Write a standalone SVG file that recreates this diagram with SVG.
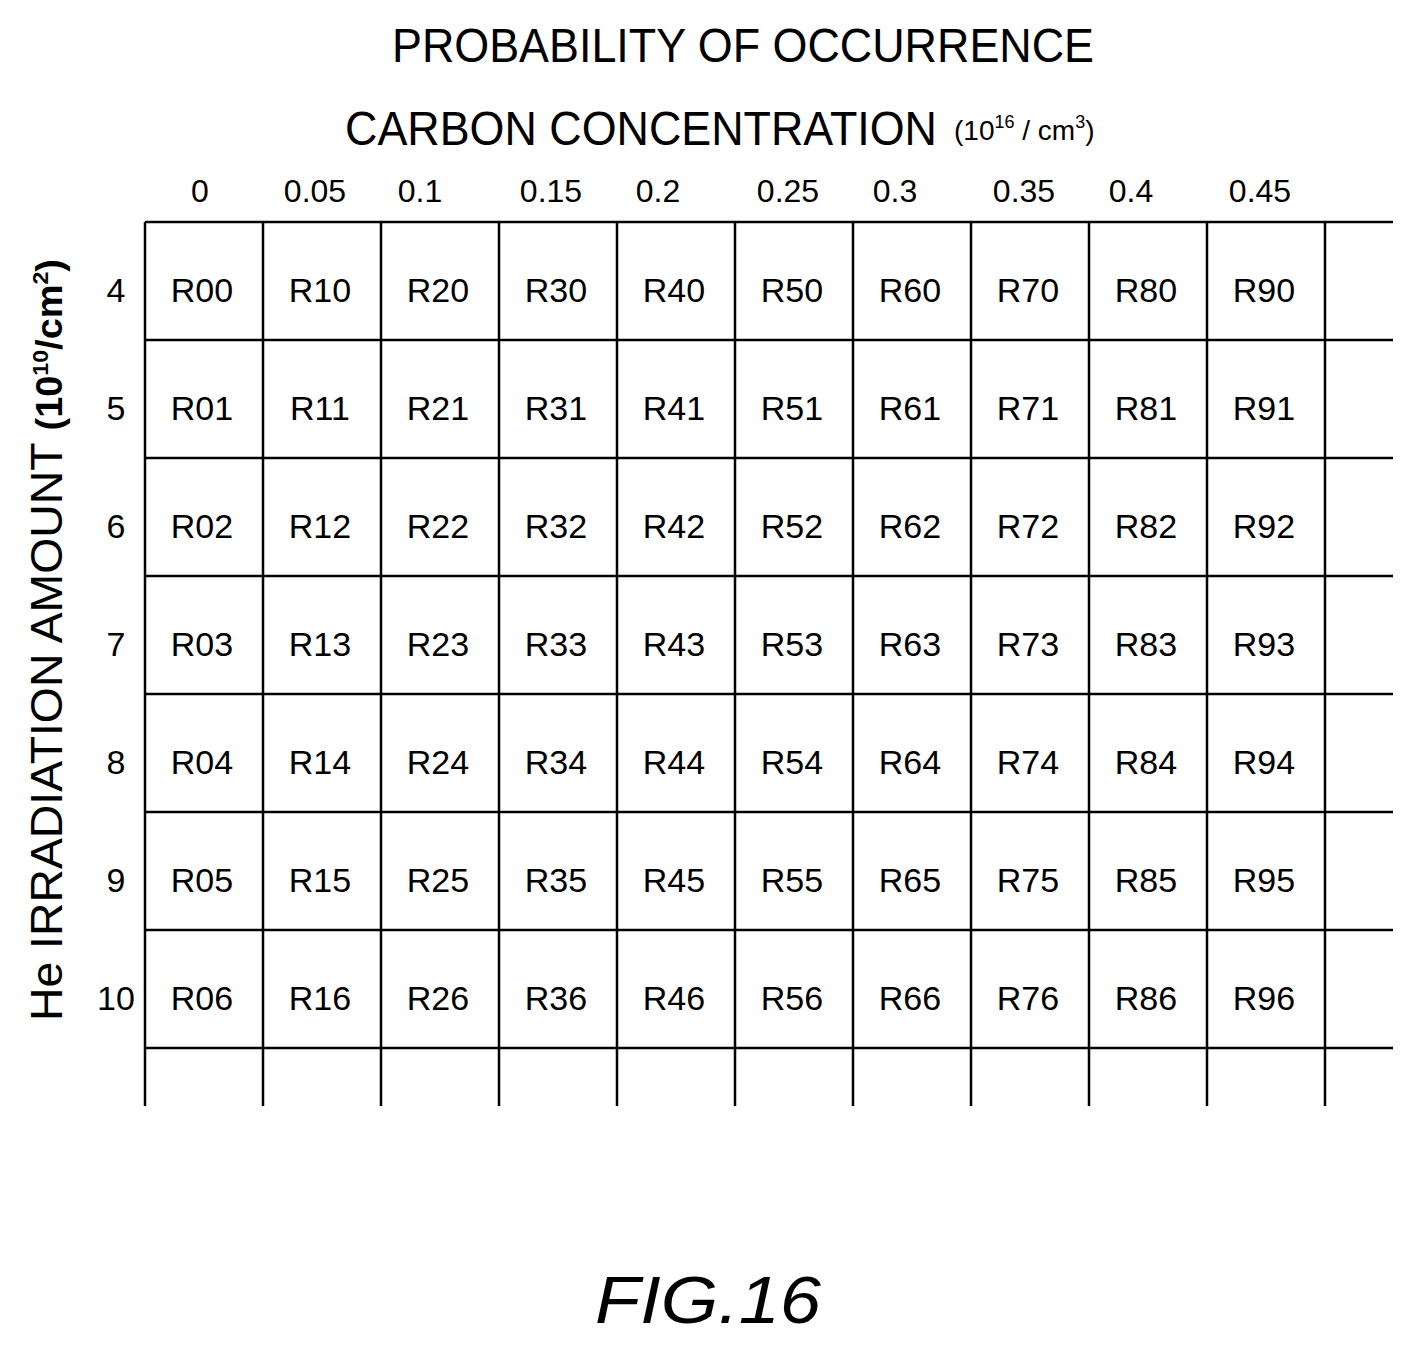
<svg xmlns="http://www.w3.org/2000/svg" width="1414" height="1348" viewBox="0 0 1414 1348">
<style>
text{font-family:"Liberation Sans",Arial,sans-serif;fill:#000}
.c{font-size:34px;text-anchor:middle}
.h{font-size:32px;text-anchor:middle}
line{stroke:#000;stroke-width:2.5}
</style>
<rect width="1414" height="1348" fill="#fff"/>
<text x="743" y="62" font-size="48" text-anchor="middle" textLength="702" lengthAdjust="spacingAndGlyphs">PROBABILITY OF OCCURRENCE</text>
<text x="345" y="145" font-size="48" textLength="592" lengthAdjust="spacingAndGlyphs">CARBON CONCENTRATION</text>
<text x="954" y="140" font-size="28">(10<tspan font-size="18" dy="-12">16</tspan><tspan dy="12"> / cm</tspan><tspan font-size="18" dy="-12">3</tspan><tspan dy="12">)</tspan></text>
<g id="colheads" class="h">
<text x="200" y="202" class="h">0</text><text x="315" y="202" class="h">0.05</text><text x="420" y="202" class="h">0.1</text><text x="551" y="202" class="h">0.15</text><text x="658" y="202" class="h">0.2</text><text x="788" y="202" class="h">0.25</text><text x="895" y="202" class="h">0.3</text><text x="1024" y="202" class="h">0.35</text><text x="1131" y="202" class="h">0.4</text><text x="1260" y="202" class="h">0.45</text>
</g>
<text transform="translate(62,640) rotate(-90)" font-size="44" text-anchor="middle" textLength="762" lengthAdjust="spacingAndGlyphs">He IRRADIATION AMOUNT <tspan font-weight="bold" font-size="36">(10<tspan font-size="22" dy="-14">10</tspan><tspan dy="14">/cm</tspan><tspan font-size="22" dy="-14">2</tspan><tspan dy="14">)</tspan></tspan></text>
<g id="rowheads">
<text x="116" y="302" class="c">4</text><text x="116" y="420" class="c">5</text><text x="116" y="538" class="c">6</text><text x="116" y="656" class="c">7</text><text x="116" y="774" class="c">8</text><text x="116" y="892" class="c">9</text><text x="116" y="1010" class="c">10</text>
</g>
<g id="grid">
<line x1="145" y1="222" x2="1393" y2="222"/><line x1="145" y1="340" x2="1393" y2="340"/><line x1="145" y1="458" x2="1393" y2="458"/><line x1="145" y1="576" x2="1393" y2="576"/><line x1="145" y1="694" x2="1393" y2="694"/><line x1="145" y1="812" x2="1393" y2="812"/><line x1="145" y1="930" x2="1393" y2="930"/><line x1="145" y1="1048" x2="1393" y2="1048"/>
<line x1="145" y1="222" x2="145" y2="1106"/><line x1="263" y1="222" x2="263" y2="1106"/><line x1="381" y1="222" x2="381" y2="1106"/><line x1="499" y1="222" x2="499" y2="1106"/><line x1="617" y1="222" x2="617" y2="1106"/><line x1="735" y1="222" x2="735" y2="1106"/><line x1="853" y1="222" x2="853" y2="1106"/><line x1="971" y1="222" x2="971" y2="1106"/><line x1="1089" y1="222" x2="1089" y2="1106"/><line x1="1207" y1="222" x2="1207" y2="1106"/><line x1="1325" y1="222" x2="1325" y2="1106"/>
</g>
<g id="cells">
<text x="202" y="302" class="c">R00</text><text x="320" y="302" class="c">R10</text><text x="438" y="302" class="c">R20</text><text x="556" y="302" class="c">R30</text><text x="674" y="302" class="c">R40</text><text x="792" y="302" class="c">R50</text><text x="910" y="302" class="c">R60</text><text x="1028" y="302" class="c">R70</text><text x="1146" y="302" class="c">R80</text><text x="1264" y="302" class="c">R90</text>
<text x="202" y="420" class="c">R01</text><text x="320" y="420" class="c">R11</text><text x="438" y="420" class="c">R21</text><text x="556" y="420" class="c">R31</text><text x="674" y="420" class="c">R41</text><text x="792" y="420" class="c">R51</text><text x="910" y="420" class="c">R61</text><text x="1028" y="420" class="c">R71</text><text x="1146" y="420" class="c">R81</text><text x="1264" y="420" class="c">R91</text>
<text x="202" y="538" class="c">R02</text><text x="320" y="538" class="c">R12</text><text x="438" y="538" class="c">R22</text><text x="556" y="538" class="c">R32</text><text x="674" y="538" class="c">R42</text><text x="792" y="538" class="c">R52</text><text x="910" y="538" class="c">R62</text><text x="1028" y="538" class="c">R72</text><text x="1146" y="538" class="c">R82</text><text x="1264" y="538" class="c">R92</text>
<text x="202" y="656" class="c">R03</text><text x="320" y="656" class="c">R13</text><text x="438" y="656" class="c">R23</text><text x="556" y="656" class="c">R33</text><text x="674" y="656" class="c">R43</text><text x="792" y="656" class="c">R53</text><text x="910" y="656" class="c">R63</text><text x="1028" y="656" class="c">R73</text><text x="1146" y="656" class="c">R83</text><text x="1264" y="656" class="c">R93</text>
<text x="202" y="774" class="c">R04</text><text x="320" y="774" class="c">R14</text><text x="438" y="774" class="c">R24</text><text x="556" y="774" class="c">R34</text><text x="674" y="774" class="c">R44</text><text x="792" y="774" class="c">R54</text><text x="910" y="774" class="c">R64</text><text x="1028" y="774" class="c">R74</text><text x="1146" y="774" class="c">R84</text><text x="1264" y="774" class="c">R94</text>
<text x="202" y="892" class="c">R05</text><text x="320" y="892" class="c">R15</text><text x="438" y="892" class="c">R25</text><text x="556" y="892" class="c">R35</text><text x="674" y="892" class="c">R45</text><text x="792" y="892" class="c">R55</text><text x="910" y="892" class="c">R65</text><text x="1028" y="892" class="c">R75</text><text x="1146" y="892" class="c">R85</text><text x="1264" y="892" class="c">R95</text>
<text x="202" y="1010" class="c">R06</text><text x="320" y="1010" class="c">R16</text><text x="438" y="1010" class="c">R26</text><text x="556" y="1010" class="c">R36</text><text x="674" y="1010" class="c">R46</text><text x="792" y="1010" class="c">R56</text><text x="910" y="1010" class="c">R66</text><text x="1028" y="1010" class="c">R76</text><text x="1146" y="1010" class="c">R86</text><text x="1264" y="1010" class="c">R96</text>
</g>
<text x="708" y="1323" font-size="66" font-style="italic" text-anchor="middle" textLength="226" lengthAdjust="spacingAndGlyphs">FIG.16</text>
</svg>
